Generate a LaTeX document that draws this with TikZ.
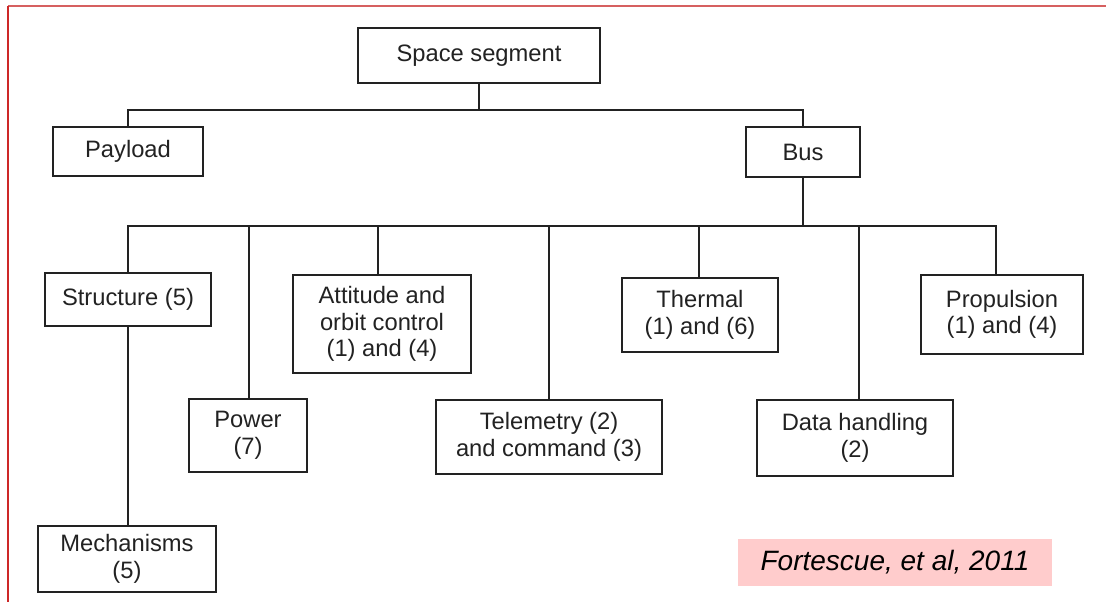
\documentclass[tikz,border=0pt]{standalone}
\usepackage{fontspec}
\setmainfont{Liberation Sans}
\usetikzlibrary{calc}
\definecolor{ink}{RGB}{34,34,34}
\definecolor{frameTop}{RGB}{214,96,96}
\definecolor{frameLeft}{RGB}{205,40,40}
\definecolor{citefill}{RGB}{255,204,204}
\tikzset{
  box/.style={draw=ink, line width=1.3pt, fill=white, inner sep=0pt, align=center,
    text=ink, font=\fontsize{17.8}{20}\selectfont},
  link/.style={draw=ink, line width=1.2pt},
}
\begin{document}
\begin{tikzpicture}[x=0.75pt, y=-0.75pt]
\useasboundingbox (0,0) rectangle (1106,602);
% red frame (top and left edges)
\draw[frameTop, line width=1.3pt] (8,6) -- (1106,6);
\draw[frameLeft, line width=1.3pt] (8,6) -- (8,602);

% nodes
\node[box, minimum width=182pt, minimum height=41pt] (space) at (479,55.5) {Space segment};
\node[box, minimum width=112pt, minimum height=37pt] (payload) at (128,151.5) {Payload};
\node[box, minimum width=85pt, minimum height=37.5pt] (bus) at (803,152) {Bus};
\node[box, minimum width=125pt, minimum height=40pt] (struct) at (128,299.5) {Structure (5)};
\node[box, minimum width=134pt, minimum height=49.5pt] (mech) at (127,559) {Mechanisms\\(5)};
\node[box, minimum width=88.5pt, minimum height=55pt] (power) at (248,435.5) {Power\\(7)};
\node[box, minimum width=133.5pt, minimum height=73.5pt] (att) at (382,324) {Attitude and\\orbit control\\(1) and (4)};
\node[box, minimum width=170pt, minimum height=55.5pt] (tele) at (549,437) {Telemetry (2)\\and command (3)};
\node[box, minimum width=117pt, minimum height=55.5pt] (therm) at (700,315) {Thermal\\(1) and (6)};
\node[box, minimum width=147pt, minimum height=57pt] (data) at (855,438) {Data handling\\(2)};
\node[box, minimum width=121pt, minimum height=59pt] (prop) at (1002,314.5) {Propulsion\\(1) and (4)};

\node[fill=citefill, inner sep=0pt, minimum width=235.5pt, minimum height=35pt,
  font=\fontsize{21}{24}\selectfont\itshape, text=black] (cite) at (895,562.5) {Fortescue, et al, 2011};

% junction coordinates
\coordinate (jS) at (479,110);
\coordinate (jB) at (803,226);

% connectors
\draw[link] (space.south) -- (jS);
\draw[link] (jS) -| (payload.north);
\draw[link] (jS) -| (bus.north);
\draw[link] (bus.south) -- (jB);
\draw[link] (jB) -| (struct.north);
\draw[link] (jB) -| ([xshift=0.75pt]power.north);
\draw[link] (jB) -| ([xshift=-3pt]att.north);
\draw[link] (jB) -| (tele.north);
\draw[link] (jB) -| ([xshift=-0.75pt]therm.north);
\draw[link] (jB) -| ([xshift=3pt]data.north);
\draw[link] (jB) -| ([xshift=-4.5pt]prop.north);
\draw[link] (struct.south) -- (struct.south |- mech.north);
\end{tikzpicture}
\end{document}
